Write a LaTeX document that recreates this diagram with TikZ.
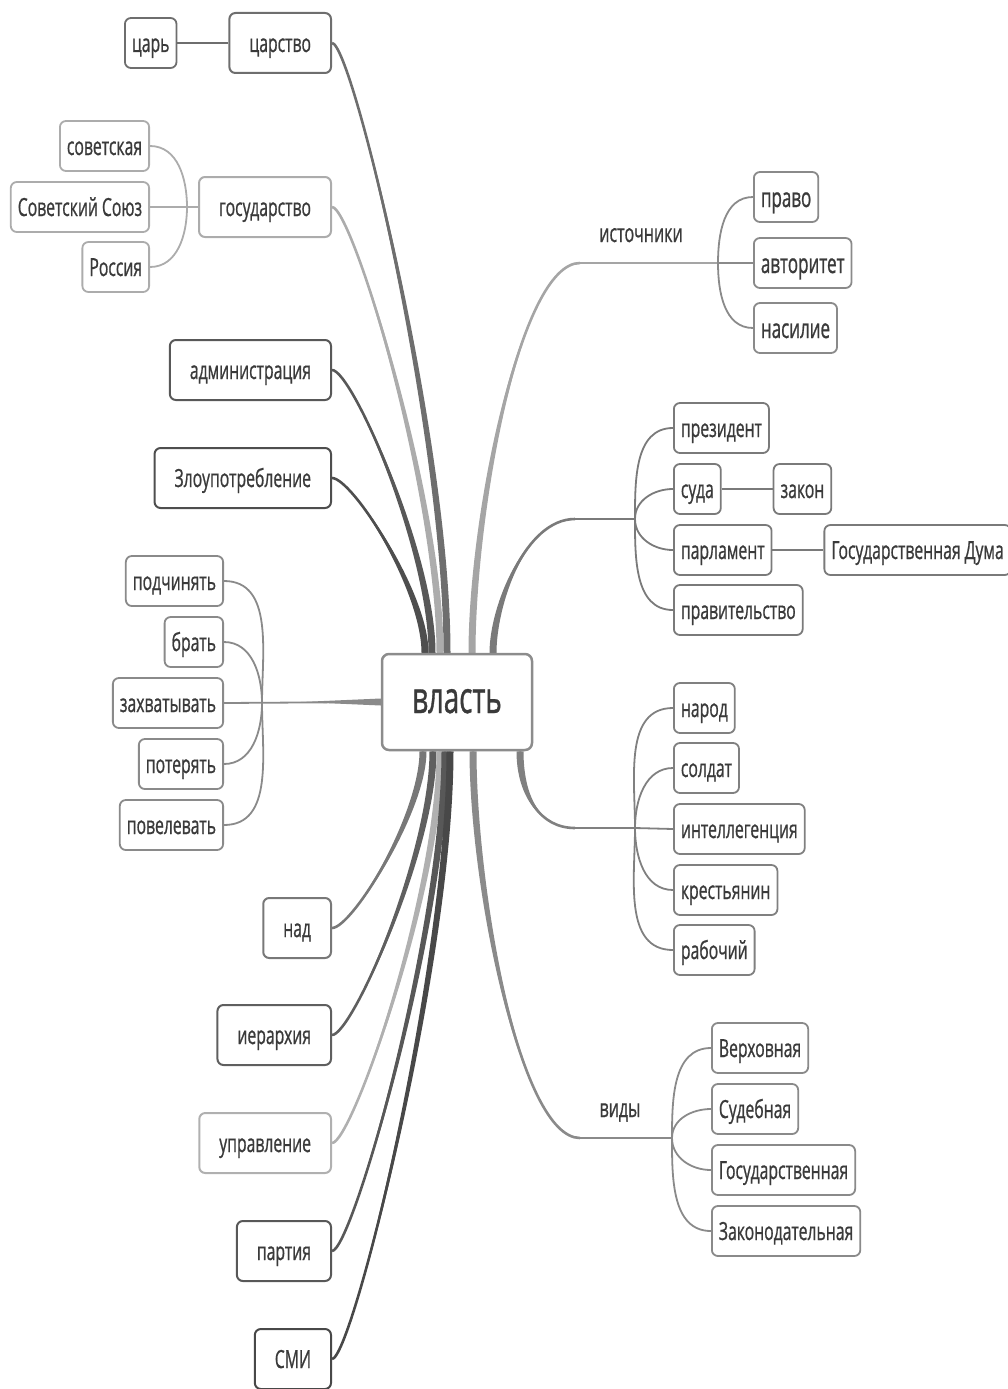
\documentclass[tikz,border=0pt]{standalone}
\usepackage{fontspec}
\setmainfont[FakeStretch=0.63, FakeBold=0.8]{Open Sans}
\usepackage{tikz}
\usetikzlibrary{positioning,calc,backgrounds}
\definecolor{txt}{RGB}{58,58,58}
\definecolor{cCtr}{RGB}{140,140,140}
\definecolor{cTsar}{RGB}{110,110,110}
\definecolor{cGos}{RGB}{172,172,172}
\definecolor{cAdm}{RGB}{88,88,88}
\definecolor{cZlo}{RGB}{78,78,78}
\definecolor{cVerb}{RGB}{138,138,138}
\definecolor{cNad}{RGB}{120,120,120}
\definecolor{cIer}{RGB}{95,95,95}
\definecolor{cUpr}{RGB}{176,176,176}
\definecolor{cPart}{RGB}{88,88,88}
\definecolor{cSmi}{RGB}{72,72,72}
\definecolor{cSrc}{RGB}{165,165,165}
\definecolor{cGov}{RGB}{122,122,122}
\definecolor{cPpl}{RGB}{128,128,128}
\definecolor{cVid}{RGB}{138,138,138}
\newcommand{\nodefont}{\fontsize{25}{30}\selectfont}
\newcommand{\srcfont}{\fontsize{27}{32}\selectfont}
\newcommand{\notefont}{\fontsize{25.5}{30}\selectfont}
\newcommand{\bigfont}{\fontsize{44}{52}\selectfont}
\tikzstyle{topic} = [rectangle, rounded corners=6pt, draw, line width=2pt, fill=white, text=txt, minimum height=60pt, inner xsep=20pt, inner ysep=0pt, text height=22pt, text depth=4pt, font=\nodefont]
\tikzstyle{leaf} = [rectangle, rounded corners=6pt, draw, line width=1.8pt, fill=white, text=txt, minimum height=50pt, inner xsep=7pt, inner ysep=0pt, text height=22pt, text depth=4pt, font=\nodefont]
\tikzstyle{srcleaf} = [leaf, text height=24pt, text depth=4pt, font=\srcfont]
\tikzstyle{note} = [text=txt, inner sep=0pt, anchor=base, font=\notefont]
\tikzstyle{twig} = [draw, line width=1.8pt]
% tapered main branch: colour, start, end, pull at end, pull at start
\newcommand{\limb}[5]{%
  \fill[#1] ($(#2)+(-3.5,0)$) .. controls ($(#2)+(-3.5,#5)$) and ($(#3)+(#4,0)$) .. (#3)
    .. controls ($(#3)+(#4,0)$) and ($(#2)+(3.5,#5)$) .. ($(#2)+(3.5,0)$) -- cycle;
  \draw[#1, line width=2.6pt] (#2) .. controls ($(#2)+(0,#5)$) and ($(#3)+(#4,0)$) .. (#3);
}

\begin{document}
\begin{tikzpicture}[x=1pt, y=1pt]
\useasboundingbox (0,0) rectangle (1008,-1389);

% centre =============================
\node[rectangle, rounded corners=7pt, draw=cCtr, line width=2.5pt, fill=white, text=txt,
  minimum width=150pt, minimum height=96pt, inner sep=0pt, text height=32pt, text depth=10pt, font=\bigfont] (ctr) at (457,-702) {власть};

% left side
\node[topic, draw=cTsar, anchor=east] (tsarstvo) at (332,-43) {царство};
\node[leaf, draw=cTsar, left=51pt of tsarstvo] (tsar) {царь};

\node[topic, draw=cGos, anchor=east] (gos) at (332,-207) {государство};
\node[leaf, draw=cGos, anchor=east] (sov) at (150,-146) {советская};
\node[leaf, draw=cGos, anchor=east] (sovsoyuz) at (150,-207) {Советский Союз};
\node[leaf, draw=cGos, anchor=east] (rossiya) at (150,-267) {Россия};

\node[topic, draw=cAdm, anchor=east] (admin) at (332,-370) {администрация};
\node[topic, draw=cZlo, anchor=east] (zloup) at (332,-478) {Злоупотребление};

\node[leaf, draw=cVerb, anchor=east] (podch) at (224,-581) {подчинять};
\node[leaf, draw=cVerb, anchor=east] (brat) at (224,-642) {брать};
\node[leaf, draw=cVerb, anchor=east] (zahv) at (224,-703) {захватывать};
\node[leaf, draw=cVerb, anchor=east] (poter) at (224,-764) {потерять};
\node[leaf, draw=cVerb, anchor=east] (povel) at (224,-825) {повелевать};

\node[topic, draw=cNad, anchor=east] (nad) at (332,-928) {над};
\node[topic, draw=cIer, anchor=east] (ierar) at (332,-1035) {иерархия};
\node[topic, draw=cUpr, anchor=east] (uprav) at (332,-1143) {управление};
\node[topic, draw=cPart, anchor=east] (partiya) at (332,-1251) {партия};
\node[topic, draw=cSmi, anchor=east] (smi) at (332,-1359) {СМИ};

% right side
\node[note] (istoch) at (641,-242) {источники};
\node[srcleaf, draw=cVerb, anchor=west] (pravo) at (753,-197) {право};
\node[srcleaf, draw=cVerb, anchor=west] (avtor) at (753,-263) {авторитет};
\node[srcleaf, draw=cVerb, anchor=west] (nasil) at (753,-328) {насилие};

\node[leaf, draw=cGov, anchor=west] (pres) at (673,-428) {президент};
\node[leaf, draw=cGov, anchor=west] (suda) at (673,-489) {суда};
\node[leaf, draw=cGov, right=51pt of suda] (zakon) {закон};
\node[leaf, draw=cGov, anchor=west] (parl) at (673,-550) {парламент};
\node[leaf, draw=cGov, right=51pt of parl] (gosduma) {Государственная Дума};
\node[leaf, draw=cGov, anchor=west] (pravit) at (673,-610) {правительство};

\node[leaf, draw=cPpl, anchor=west] (narod) at (673,-708) {народ};
\node[leaf, draw=cPpl, anchor=west] (soldat) at (673,-768) {солдат};
\node[leaf, draw=cPpl, anchor=west] (intel) at (673,-829) {интеллегенция};
\node[leaf, draw=cPpl, anchor=west] (krest) at (673,-890) {крестьянин};
\node[leaf, draw=cPpl, anchor=west] (rabo) at (673,-950) {рабочий};

\node[note] (vidy) at (620,-1117) {виды};
\node[leaf, draw=cVid, anchor=west] (verh) at (711,-1048) {Верховная};
\node[leaf, draw=cVid, anchor=west] (sudeb) at (711,-1109) {Судебная};
\node[leaf, draw=cVid, anchor=west] (gosud) at (711,-1170) {Государственная};
\node[leaf, draw=cVid, anchor=west] (zakonod) at (711,-1231) {Законодательная};

% branch points
\coordinate (up1) at ([xshift=-10pt]ctr.north);
\coordinate (up2) at ([xshift=-17pt]ctr.north);
\coordinate (up3) at ([xshift=-25pt]ctr.north);
\coordinate (up4) at ([xshift=-32pt]ctr.north);
\coordinate (up5) at ([xshift=15pt]ctr.north);
\coordinate (up6) at ([xshift=36pt]ctr.north);
\coordinate (dn1) at ([xshift=-34pt]ctr.south);
\coordinate (dn2) at ([xshift=-24pt]ctr.south);
\coordinate (dn3) at ([xshift=-17pt]ctr.south);
\coordinate (dn4) at ([xshift=-12pt]ctr.south);
\coordinate (dn5) at ([xshift=-7pt]ctr.south);
\coordinate (dn6) at ([xshift=16pt]ctr.south);
\coordinate (dn7) at ([xshift=63pt]ctr.south);

\coordinate (srcend) at (580,-263);
\coordinate (srcjoin) at (718,-263);
\coordinate (govend) at (575,-519);
\coordinate (govjoin) at (635,-519);
\coordinate (pplend) at (575,-828);
\coordinate (ppljoin) at (635,-828);
\coordinate (vidend) at (580,-1138);
\coordinate (vidjoin) at (672,-1138);
\coordinate (gosjoin) at (187,-207);
\coordinate (verbjoin) at (262,-703);

%edges
\begin{scope}[on background layer]
\limb{cTsar}{up1}{tsarstvo.east}{20}{214}
\limb{cGos}{up2}{gos.east}{20}{157}
\limb{cAdm}{up3}{admin.east}{20}{100}
\limb{cZlo}{up4}{zloup.east}{20}{62}
\limb{cSrc}{up5}{srcend}{-60}{137}
\limb{cGov}{up6}{govend}{-50}{47}

\limb{cNad}{dn1}{nad.east}{20}{-62}
\limb{cIer}{dn2}{ierar.east}{20}{-100}
\limb{cUpr}{dn3}{uprav.east}{20}{-138}
\limb{cPart}{dn4}{partiya.east}{20}{-175}
\limb{cSmi}{dn5}{smi.east}{20}{-213}
\limb{cVid}{dn6}{vidend}{-60}{-136}
\limb{cPpl}{dn7}{pplend}{-35}{-45}

\path[twig, cTsar] (tsar) -- (tsarstvo);
\path[twig, cGos] (gos.west) -- (gosjoin);
\path[twig, cGos] (gosjoin) to[out=90, in=0] (sov.east);
\path[twig, cGos] (gosjoin) -- (sovsoyuz.east);
\path[twig, cGos] (gosjoin) to[out=-90, in=0] (rossiya.east);

\path[twig, cVerb] (zahv.east) -- (ctr.west);
\fill[cVerb] ($(ctr.west)+(0,3.5)$) -- ($(ctr.west)+(-80,0)$) -- ($(ctr.west)+(0,-3.5)$) -- cycle;
\path[twig, cVerb] (verbjoin) to[out=90, in=0] (podch.east);
\path[twig, cVerb] (verbjoin) to[out=90, in=0] (brat.east);
\path[twig, cVerb] (verbjoin) to[out=-90, in=0] (poter.east);
\path[twig, cVerb] (verbjoin) to[out=-90, in=0] (povel.east);

\path[twig, cSrc] (srcend) -- (srcjoin);
\path[twig, cVerb] (srcjoin) to[out=90, in=180] (pravo.west);
\path[twig, cVerb] (srcjoin) -- (avtor.west);
\path[twig, cVerb] (srcjoin) to[out=-90, in=180] (nasil.west);

\path[twig, cGov] (govend) -- (govjoin);
\path[twig, cGov] (govjoin) to[out=90, in=180] (pres.west);
\path[twig, cGov] (govjoin) to[out=90, in=180] (suda.west);
\path[twig, cGov] (govjoin) to[out=-90, in=180] (parl.west);
\path[twig, cGov] (govjoin) to[out=-90, in=180] (pravit.west);
\path[twig, cGov] (suda) -- (zakon);
\path[twig, cGov] (parl) -- (gosduma);

\path[twig, cPpl] (pplend) -- (ppljoin);
\path[twig, cPpl] (ppljoin) to[out=90, in=180] (narod.west);
\path[twig, cPpl] (ppljoin) to[out=90, in=180] (soldat.west);
\path[twig, cPpl] (ppljoin) -- (intel.west);
\path[twig, cPpl] (ppljoin) to[out=-90, in=180] (krest.west);
\path[twig, cPpl] (ppljoin) to[out=-90, in=180] (rabo.west);

\path[twig, cVid] (vidend) -- (vidjoin);
\path[twig, cVid] (vidjoin) to[out=90, in=180] (verh.west);
\path[twig, cVid] (vidjoin) to[out=90, in=180] (sudeb.west);
\path[twig, cVid] (vidjoin) to[out=-90, in=180] (gosud.west);
\path[twig, cVid] (vidjoin) to[out=-90, in=180] (zakonod.west);
\end{scope}

\end{tikzpicture}
\end{document}
